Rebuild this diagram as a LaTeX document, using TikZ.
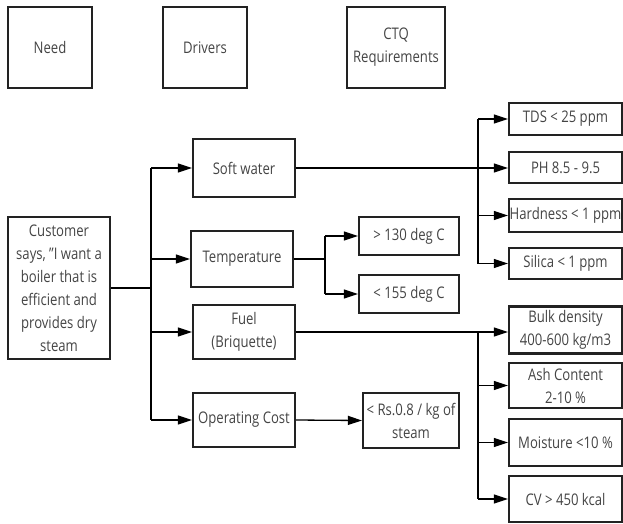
\documentclass[tikz,border=0pt]{standalone}
\usepackage{fontspec}
\setmainfont{Open Sans}[FakeStretch=0.82]
\usetikzlibrary{arrows.meta}
\definecolor{txt}{HTML}{444444}
\definecolor{bord}{HTML}{222222}
\begin{document}
\begin{tikzpicture}[x=1pt,y=-1pt,
  box/.style={draw=bord,line width=2.2pt,text=txt,align=center,inner sep=0pt,
    font=\fontsize{16}{23}\selectfont},
  conn/.style={line width=1.3pt,draw=black},
  arr/.style={conn,-{Triangle[length=14pt,width=9pt]}}]
\useasboundingbox (0,0) rectangle (623,523);
% header
\node[box,minimum width=84pt,minimum height=81pt] (need) at (50,47.5) {Need};
\node[box,minimum width=84pt,minimum height=81pt] (drivers) at (205,47.5) {Drivers};
\node[box,minimum width=98pt,minimum height=81pt] (ctq) at (396,47.5) {CTQ\\Requirements};
% need
\node[box,minimum width=102pt,minimum height=142pt] (cust) at (59,288) {Customer\\says, "I want a\\boiler that is\\efficient and\\provides dry\\steam};
% drivers
\node[box,minimum width=102pt,minimum height=58pt] (soft) at (244,168) {Soft water};
\node[box,minimum width=102pt,minimum height=56pt] (temp) at (242,259) {Temperature};
\node[box,minimum width=102pt,minimum height=54pt] (fuel) at (244,332) {Fuel\\(Briquette)};
\node[box,minimum width=102pt,minimum height=54pt] (opc) at (244,420) {Operating Cost};
% temperature / cost requirements
\node[box,minimum width=100pt,minimum height=38pt] (t130) at (409,236) {> 130 deg C};
\node[box,minimum width=100pt,minimum height=38pt] (t155) at (409,294) {< 155 deg C};
\node[box,minimum width=96pt,minimum height=55pt] (rs) at (411,420.5) {< Rs.0.8 / kg of\\steam};
% water requirements
\node[box,minimum width=113pt,minimum height=32pt] (tds) at (565.5,119) {TDS < 25 ppm};
\node[box,minimum width=113pt,minimum height=31pt] (ph) at (565.5,167.5) {PH 8.5 - 9.5};
\node[box,minimum width=113pt,minimum height=33pt] (hard) at (565.5,215.5) {Hardness < 1 ppm};
\node[box,minimum width=113pt,minimum height=31pt] (sil) at (565.5,263.5) {Silica < 1 ppm};
% fuel requirements
\node[box,minimum width=113pt,minimum height=47pt] (bulk) at (565.5,330) {Bulk density\\400-600 kg/m3};
\node[box,minimum width=113pt,minimum height=45pt] (ash) at (565.5,385.5) {Ash Content\\2-10 \%};
\node[box,minimum width=113pt,minimum height=47pt] (moist) at (565.5,442.5) {Moisture <10 \%};
\node[box,minimum width=113pt,minimum height=46pt] (cv) at (565.5,499) {CV > 450 kcal};
% junction coordinates
\coordinate (ja) at (151,0);
\coordinate (jt) at (325,0);
\coordinate (jw) at (478,0);
% need -> drivers
\draw[conn] (cust.east) -- (ja |- cust.east);
\draw[conn] (ja |- soft.west) -- (ja |- opc.west);
\draw[arr] (ja |- soft.west) -- (soft.west);
\draw[arr] (ja |- temp.west) -- (temp.west);
\draw[arr] (ja |- fuel.west) -- (fuel.west);
\draw[arr] (ja |- opc.west) -- (opc.west);
% soft water
\draw[arr] (soft.east) -- (soft.east -| ph.west);
\draw[conn] (jw |- tds.west) -- (jw |- sil.west);
\draw[arr] (jw |- tds.west) -- (tds.west);
\draw[arr] (jw |- hard.west) -- (hard.west);
\draw[arr] (jw |- sil.west) -- (sil.west);
% temperature
\draw[conn] (temp.east) -- (jt |- temp.east);
\draw[conn] (jt |- t130.west) -- (jt |- t155.west);
\draw[arr] (jt |- t130.west) -- (t130.west);
\draw[arr] (jt |- t155.west) -- (t155.west);
% fuel
\draw[arr] (fuel.east) -- (fuel.east -| bulk.west);
\draw[conn] (jw |- fuel.east) -- (jw |- cv.west);
\draw[arr] (jw |- ash.west) -- (ash.west);
\draw[arr] (jw |- moist.west) -- (moist.west);
\draw[arr] (jw |- cv.west) -- (cv.west);
% operating cost
\draw[arr] (opc.east) -- (rs.west);
\end{tikzpicture}
\end{document}
